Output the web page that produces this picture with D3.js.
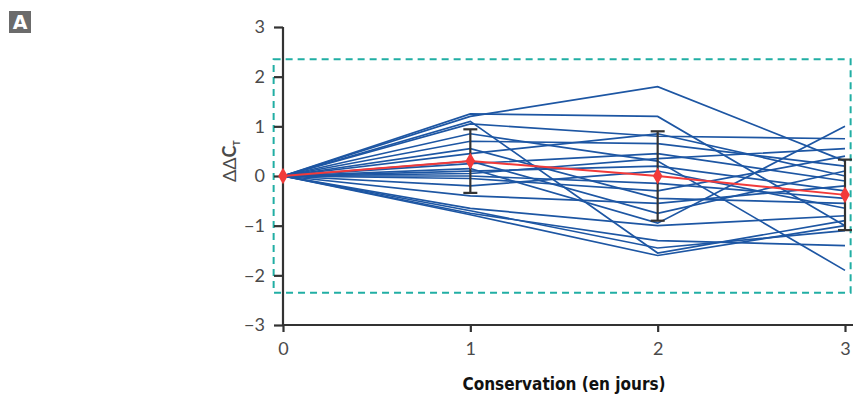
<!DOCTYPE html>
<meta charset="utf-8">
<style>
    body { margin: 0; background: #fff; }
    text { font-family: "Lato", "Open Sans", sans-serif; }
</style>
<script src="https://d3js.org/d3.v7.min.js"></script>
<svg id="chart" width="853" height="400"></svg>
<script>

// Days of storage
var days = [0, 1, 2, 3];

// One row per sample, ddCt at day 0..3
var samples = [
    [0, 1.20, 1.80, 0.30],
    [0, 1.25, 1.20, -1.00],
    [0, 1.10, -1.55, -0.90],
    [0, 1.05, 0.80, 0.75],
    [0, 0.85, 0.30, -1.90],
    [0, 0.70, 0.65, 0.20],
    [0, 0.55, -0.45, -0.55],
    [0, 0.45, 0.85, 0.00],
    [0, 0.25, 0.45, -0.10],
    [0, 0.15, -0.95, 1.00],
    [0, 0.10, 0.20, -0.30],
    [0, 0.05, 0.35, 0.55],
    [0, 0.00, -0.15, -0.45],
    [0, -0.05, -0.30, 0.40],
    [0, -0.20, 0.10, -0.65],
    [0, -0.40, -0.55, -0.20],
    [0, -0.65, -1.00, -0.80],
    [0, -0.75, -1.30, -1.40],
    [0, -0.70, -1.45, -1.10],
    [0, 0.30, -0.75, 0.10],
    [0, -0.78, -1.60, -1.00]
];

// mean and standard deviation
var meanVals = [0, 0.30, 0.00, -0.38];
var sdVals = [0, 0.64, 0.90, 0.71];

// limits of the dashed box
var limitLow = -2.35, limitHigh = 2.35;

var yTicks = [-3, -2, -1, 0, 1, 2, 3];

var svg = d3.select("#chart");

var x = d3.scaleLinear().domain([0, 3]).range([283, 845]);
var y = d3.scaleLinear().domain([-3, 3]).range([325, 27]);

// dashed acceptance box
svg.append("rect")
    .attr("x", x(-0.05))
    .attr("y", y(limitHigh))
    .attr("width", x(3.03) - x(-0.05))
    .attr("height", y(limitLow) - y(limitHigh))
    .attr("fill", "none")
    .attr("stroke", "#21aea4")
    .attr("stroke-width", 2)
    .attr("stroke-dasharray", "7,5");

// sample lines
var line = d3.line()
    .x(function(d, i) { return x(days[i]); })
    .y(function(d) { return y(d); });

svg.append("g")
    .selectAll("path")
    .data(samples)
    .enter().append("path")
        .attr("d", line)
        .attr("fill", "none")
        .attr("stroke", "#1d56a3")
        .attr("stroke-width", 1.7);

// axes
var yAxis = svg.append("g")
    .attr("transform", "translate(" + x(0) + ",0)")
    .call(d3.axisLeft(y).tickValues(yTicks).tickSize(9).tickPadding(9)
        .tickFormat(function(d) { return d < 0 ? "\u2212" + Math.abs(d) : d; }));

var xAxis = svg.append("g")
    .attr("transform", "translate(0," + y(-3) + ")")
    .call(d3.axisBottom(x).tickValues(days).tickSize(7).tickPadding(10).tickFormat(d3.format("d")));

xAxis.select(".domain").attr("d", "M" + x(0) + ",0H853");
yAxis.select(".domain").attr("d", "M0," + y(3) + "V" + y(-3));

svg.selectAll(".domain").attr("stroke", "#333").attr("stroke-width", 2.2);
svg.selectAll(".tick line").attr("stroke", "#333").attr("stroke-width", 2.2);
svg.selectAll(".tick text")
    .attr("fill", "#4a4a4a")
    .style("font-size", "18px")
    .style("font-family", "Lato, sans-serif");

// error bars
var err = svg.append("g");
days.forEach(function(d, i) {
    if (i === 0) return;
    var cx = x(d), top = y(meanVals[i] + sdVals[i]), bot = y(meanVals[i] - sdVals[i]);
    err.append("line").attr("x1", cx).attr("x2", cx).attr("y1", top).attr("y2", bot);
    err.append("line").attr("x1", cx - 7).attr("x2", cx + 7).attr("y1", top).attr("y2", top);
    err.append("line").attr("x1", cx - 7).attr("x2", cx + 7).attr("y1", bot).attr("y2", bot);
});
err.selectAll("line").attr("stroke", "#333").attr("stroke-width", 2.2);

// mean line
svg.append("path")
    .datum(meanVals)
    .attr("d", line)
    .attr("fill", "none")
    .attr("stroke", "#f23a3a")
    .attr("stroke-width", 2);

svg.append("g")
    .selectAll("path")
    .data(meanVals)
    .enter().append("path")
        .attr("d", d3.symbol().type(d3.symbolDiamond).size(80))
        .attr("transform", function(d, i) { return "translate(" + x(days[i]) + "," + y(d) + ")"; })
        .attr("fill", "#f23a3a");

// axis titles
var yl = svg.append("text")
    .attr("transform", "translate(236," + y(0.3) + ") rotate(-90)")
    .attr("text-anchor", "middle")
    .attr("fill", "#4a4a4a")
    .style("font-size", "18px");
yl.append("tspan").text("\u0394\u0394");
yl.append("tspan").text("C").style("font-weight", "bold");
yl.append("tspan").text("T").attr("dy", 4).style("font-size", "9px").style("font-weight", "bold");

svg.append("text")
    .attr("x", x(1.5))
    .attr("y", 390)
    .attr("text-anchor", "middle")
    .attr("fill", "#111")
    .style("font-family", "DejaVu Sans Condensed, DejaVu Sans, sans-serif")
    .style("font-stretch", "condensed")
    .style("font-weight", "bold")
    .style("font-size", "17px")
    .text("Conservation (en jours)");

// panel letter
svg.append("rect")
    .attr("x", 9).attr("y", 11).attr("width", 22).attr("height", 22)
    .attr("fill", "#6b6b6b");
svg.append("text")
    .attr("x", 20).attr("y", 29)
    .attr("text-anchor", "middle")
    .attr("fill", "#fff")
    .style("font-weight", "bold")
    .style("font-size", "19px")
    .style("font-family", "DejaVu Sans, sans-serif")
    .text("A");

</script>
